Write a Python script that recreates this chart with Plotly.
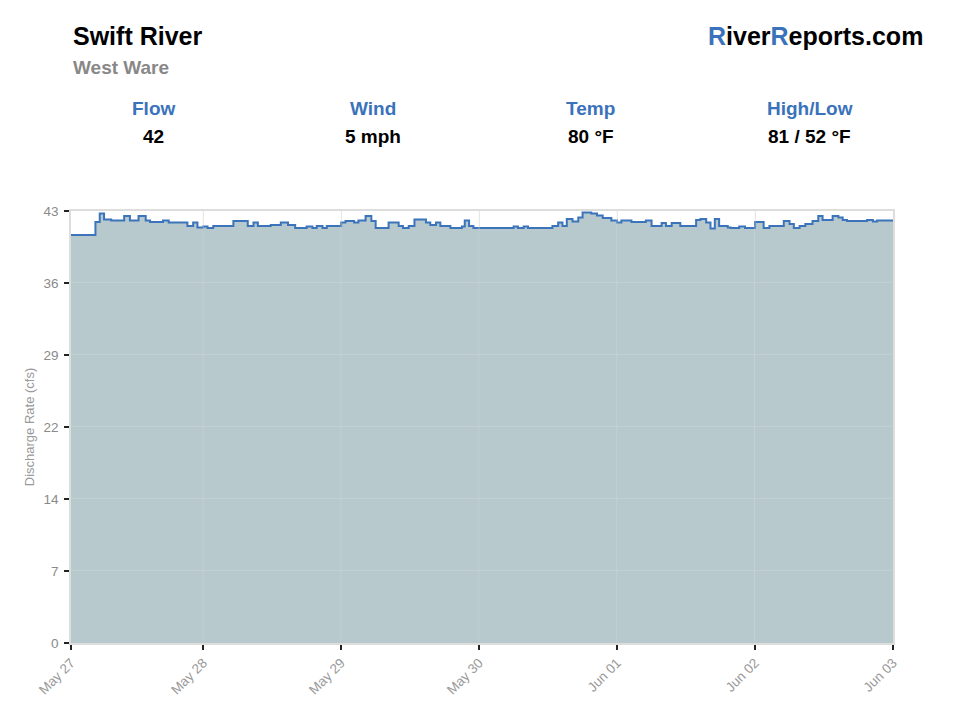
import plotly.graph_objects as go

# ---- data ----
reading_hour = [
    0, 4.25, 5.0, 5.75, 7.0, 9.25, 10.25, 11.75, 13.0, 13.75,
    16.0, 17.0, 20.25, 21.25, 22.0, 23.0, 23.75, 24.75, 28.25, 30.75,
    31.75, 32.5, 34.75, 36.5, 37.75, 39.0, 41.0, 42.0, 42.75, 43.75,
    44.5, 47.0, 47.75, 49.25, 50.0, 51.25, 52.25, 53.0, 55.25, 57.0,
    57.75, 58.75, 59.75, 61.75, 62.5, 63.5, 64.25, 66.0, 68.0, 68.5,
    69.25, 70.0, 77.0, 77.75, 78.75, 79.5, 83.75, 84.75, 85.5, 86.25,
    87.25, 88.25, 89.0, 90.5, 91.5, 92.5, 94.0, 95.0, 95.75, 97.5,
    100.0, 101.0, 102.75, 103.5, 104.5, 106.0, 108.75, 109.5, 110.5, 111.25,
    112.0, 112.75, 114.25, 114.75, 116.25, 117.25, 119.0, 120.5, 121.5, 124.0,
    125.0, 125.75, 126.75, 127.75, 129.0, 130.0, 130.75, 132.5, 133.5, 134.25,
    135.0, 138.5, 139.5, 140.25, 143.0,
]
discharge_cfs = [
    40.6, 41.9, 42.75, 42.15, 42.05, 42.5, 42.05, 42.5, 42.05, 41.9,
    42.05, 41.85, 41.5, 41.85, 41.35, 41.45, 41.3, 41.5, 42.0, 41.5,
    41.85, 41.5, 41.6, 41.85, 41.6, 41.3, 41.45, 41.3, 41.5, 41.3,
    41.5, 41.85, 42.0, 41.85, 42.05, 42.5, 42.0, 41.3, 41.85, 41.5,
    41.3, 41.5, 42.15, 41.85, 41.6, 41.85, 41.5, 41.3, 41.45, 42.05,
    41.5, 41.3, 41.45, 41.3, 41.45, 41.3, 41.5, 41.85, 41.5, 42.2,
    41.95, 42.35, 42.85, 42.75, 42.55, 42.3, 42.05, 41.85, 42.05, 41.9,
    42.05, 41.5, 41.8, 41.5, 41.8, 41.5, 42.1, 42.2, 41.85, 41.25,
    42.2, 41.5, 41.35, 41.3, 41.45, 41.3, 41.9, 41.3, 41.5, 42.0,
    41.7, 41.3, 41.5, 41.7, 42.0, 42.5, 42.1, 42.5, 42.35, 42.1,
    42.0, 42.1, 41.95, 42.05, 42.05,
]

day_tick_hours = [0, 23, 47, 71, 95, 119, 143]
day_labels = ["May 27", "May 28", "May 29", "May 30", "Jun 01", "Jun 02", "Jun 03"]

y_max = 43
y_tick_values = [0, 43 / 6, 43 / 3, 21.5, 86 / 3, 215 / 6, 43]
y_tick_labels = ["0", "7", "14", "22", "29", "36", "43"]

stat_names = ["Flow", "Wind", "Temp", "High/Low"]
stat_values = ["42", "5 mph", "80 °F", "81 / 52 °F"]
stat_x = [0.0998, 0.3674, 0.6326, 0.899]

BLUE = "#3a72bb"
GRAY = "#888888"
FONT = "Liberation Sans, Arial, sans-serif"
GRID = "rgba(228,232,222,0.45)"

fig = go.Figure()
fig.add_trace(go.Scatter(
    x=reading_hour, y=discharge_cfs,
    mode="lines", line=dict(color="#3b74bb", width=2, shape="hv"),
    fill="tozeroy", fillcolor="rgba(112,148,155,0.5)",
    hoverinfo="skip", showlegend=False,
))

# light grid lines drawn over the translucent fill, at the tick positions
shapes = []
for tv in day_tick_hours[1:-1]:
    shapes.append(dict(type="line", xref="x", yref="paper", x0=tv, x1=tv, y0=0, y1=1,
                       line=dict(color=GRID, width=1), layer="above"))
for tv in y_tick_values[1:-1]:
    shapes.append(dict(type="line", xref="paper", yref="y", x0=0, x1=1, y0=tv, y1=tv,
                       line=dict(color=GRID, width=1), layer="above"))

ann = []
ann.append(dict(text="<b>Swift River</b>", x=0, y=1.405, xref="paper", yref="paper",
                xanchor="left", yanchor="middle", showarrow=False,
                font=dict(size=25, color="#000000", family=FONT)))
ann.append(dict(text="<b>West Ware</b>", x=0, y=1.333, xref="paper", yref="paper",
                xanchor="left", yanchor="middle", showarrow=False,
                font=dict(size=19, color=GRAY, family=FONT)))
ann.append(dict(text=f"<b><span style='color:{BLUE}'>R</span>iver<span style='color:{BLUE}'>R</span>eports.com</b>",
                x=1.0389, y=1.405, xref="paper", yref="paper",
                xanchor="right", yanchor="middle", showarrow=False,
                font=dict(size=25, color="#000000", family=FONT)))
for name, val, sx in zip(stat_names, stat_values, stat_x):
    ann.append(dict(text=f"<b>{name}</b>", x=sx, y=1.2384, xref="paper", yref="paper",
                    xanchor="center", yanchor="middle", showarrow=False,
                    font=dict(size=19, color=BLUE, family=FONT)))
    ann.append(dict(text=f"<b>{val}</b>", x=sx, y=1.1736, xref="paper", yref="paper",
                    xanchor="center", yanchor="middle", showarrow=False,
                    font=dict(size=19, color="#000000", family=FONT)))

fig.update_layout(
    width=960, height=720,
    margin=dict(l=71, r=67, t=211, b=77, pad=0),
    paper_bgcolor="white", plot_bgcolor="white",
    font=dict(family=FONT, color=GRAY, size=13),
    annotations=ann,
    shapes=shapes,
    xaxis=dict(
        range=[0, 143], tickmode="array", tickvals=day_tick_hours, ticktext=day_labels,
        tickangle=-45, tickfont=dict(size=13.5, color="#999999"),
        ticks="outside", ticklen=5, tickcolor="#222222", tickwidth=1.5,
        showgrid=True, gridcolor="#e8e8e8", gridwidth=1,
        showline=True, linecolor="#dddddd", linewidth=1.5, mirror=True,
        zeroline=False, fixedrange=True,
    ),
    yaxis=dict(
        range=[0, y_max], tickmode="array", tickvals=y_tick_values, ticktext=y_tick_labels,
        tickfont=dict(size=13.5, color="#8a8a8a"),
        ticks="outside", ticklen=5, tickcolor="#222222", tickwidth=1.5,
        ticklabelstandoff=3,
        showgrid=True, gridcolor="#e8e8e8", gridwidth=1,
        showline=True, linecolor="#dddddd", linewidth=1.5, mirror=True,
        zeroline=False, fixedrange=True,
        title=dict(text="Discharge Rate (cfs)", font=dict(size=13, color="#999999"), standoff=6),
    ),
)

fig.write_html("out.html")
